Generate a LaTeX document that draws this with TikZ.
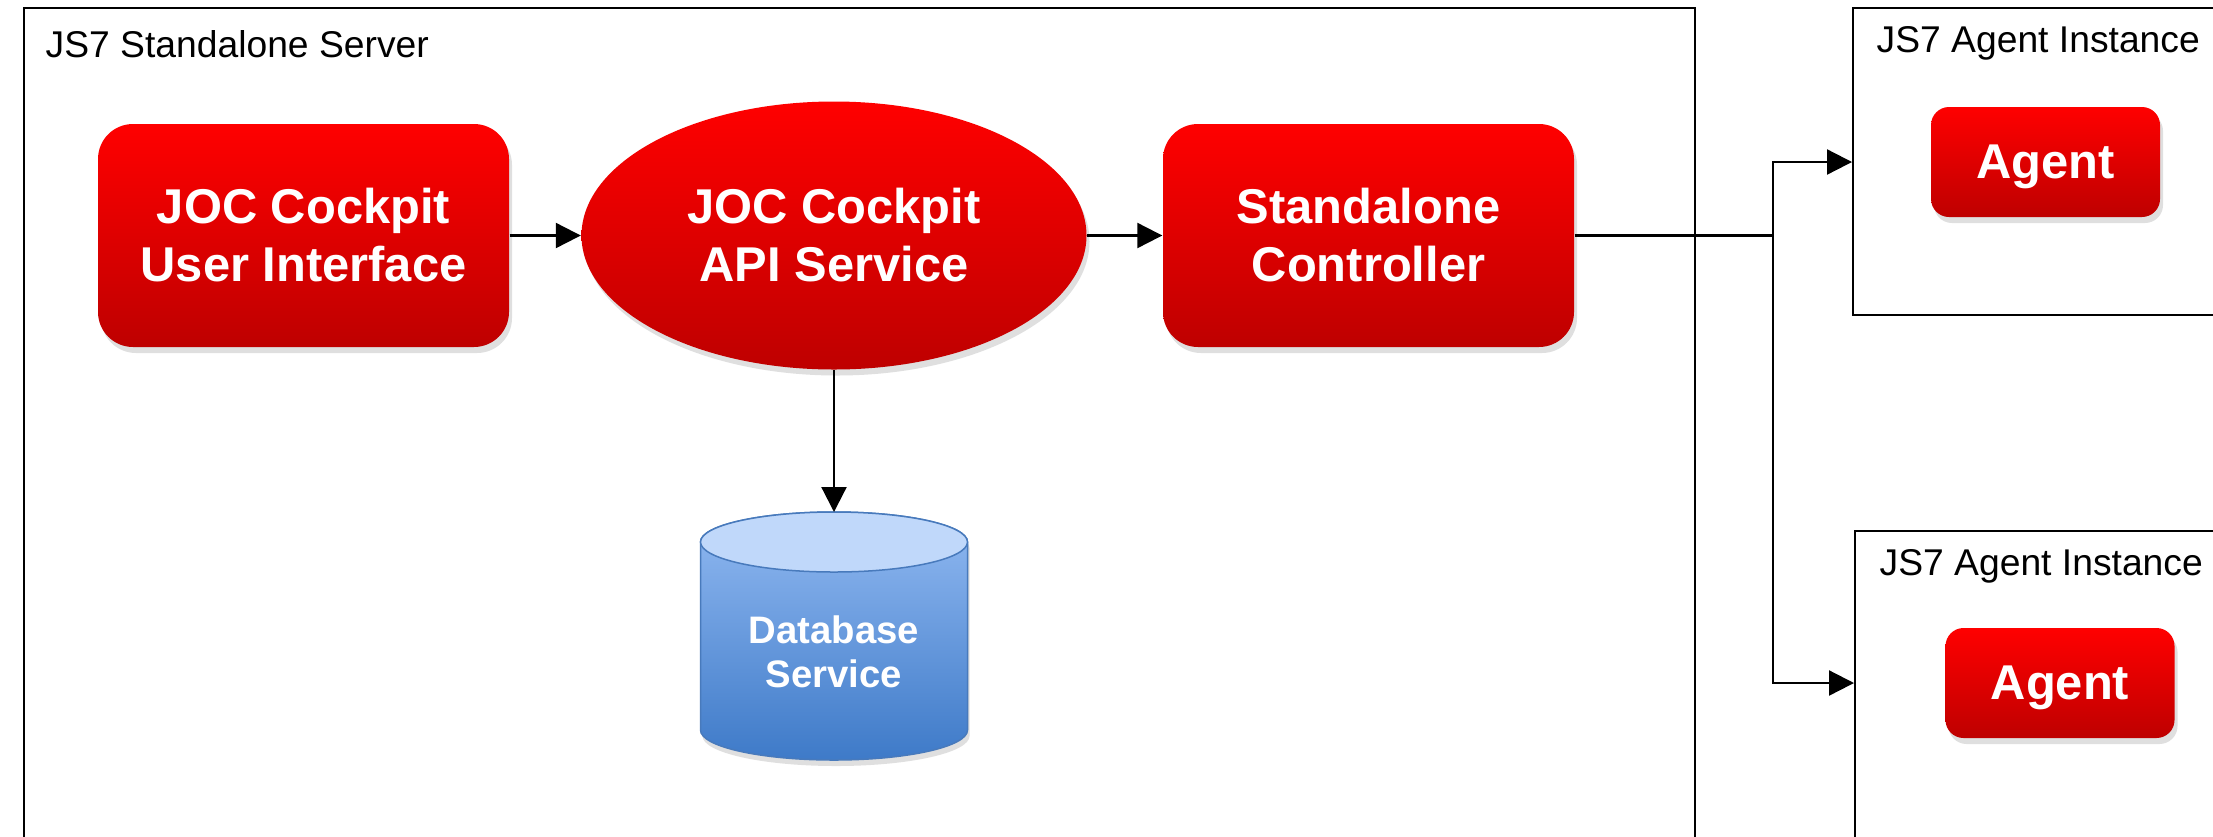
\documentclass[tikz,border=0pt]{standalone}
\usepackage{fontspec}
\setmainfont{Liberation Sans}
\usetikzlibrary{shapes.geometric,shadows,positioning,arrows.meta,calc}
\definecolor{redtop}{RGB}{255,0,0}
\definecolor{redbot}{RGB}{190,0,0}
\definecolor{dbcap}{RGB}{192,216,250}
\definecolor{dbhi}{RGB}{146,186,242}
\definecolor{dblo}{RGB}{62,122,200}
\definecolor{dbline}{RGB}{72,122,188}
\tikzset{
  frame/.style   = { draw, line width=0.22mm, anchor=north west, inner sep=0pt },
  boxtitle/.style = { anchor=base west, inner sep=0pt, font=\fontsize{10.6}{12}\selectfont },
  redbox/.style  = { rectangle, rounded corners=3.5mm, top color=redtop, bottom color=redbot,
    text=white, align=center, font=\bfseries\fontsize{13.9}{16.5}\selectfont,
    minimum width=41.1mm, minimum height=22.3mm,
    drop shadow={shadow xshift=0.3mm, shadow yshift=-0.6mm, opacity=0.25} },
  apiell/.style  = { redbox, ellipse, sharp corners, inner sep=0pt,
    minimum width=50.5mm, minimum height=26.8mm },
  agentbox/.style = { redbox, rounded corners=1.8mm, text depth=0pt,
    minimum width=22.9mm, minimum height=11mm },
  dbtext/.style  = { text=white, align=center, font=\bfseries\fontsize{10.9}{12.5}\selectfont },
  conn/.style    = { line width=0.22mm, -{Triangle[length=2.5mm,width=2.5mm]} },
  wire/.style    = { line width=0.22mm }
}
\begin{document}
\begin{tikzpicture}[x=0.1mm,y=-0.1mm,node distance=1cm,on grid]
  \useasboundingbox (0,0) rectangle (2213,836);
  \fill[white] (0,0) rectangle (2213,836);
  \clip (0,0) rectangle (2213,836);
  % containers
  \node[frame, minimum width=167.1mm, minimum height=95mm] (srv) at (23,7) {};
  \node[frame, minimum width=45mm, minimum height=30.7mm] (inst1) at (1852,7) {};
  \node[frame, minimum width=45mm, minimum height=40mm] (inst2) at (1854,530) {};
  \node[boxtitle] (tsrv) at (45,57) {JS7 Standalone Server};
  \node[boxtitle] (tinst1) at (1876,52) {JS7 Agent Instance};
  \node[boxtitle] (tinst2) at (1879,575) {JS7 Agent Instance};
  % services
  \node[redbox] (ui) at (303.5,235.5) {JOC Cockpit\\User Interface};
  \node[apiell, right=53.05mm of ui] (api) {JOC Cockpit\\API Service};
  \node[redbox, right=53.45mm of api] (ctrl) {Standalone\\Controller};
  \node[agentbox] (agent1) at (2045.5,162) {Agent};
  \node[agentbox] (agent2) at (2060,683) {Agent};
  % database
  \path (api) ++(0,413.5) coordinate (dbc);
  \shadedraw[top color=dbhi, bottom color=dblo, draw=dbline, line width=0.15mm,
    drop shadow={shadow xshift=0.2mm, shadow yshift=-0.6mm, opacity=0.25}]
    ($(dbc)+(-133.5,-107)$) -- ($(dbc)+(-133.5,81)$)
    arc[start angle=180, end angle=360, x radius=13.35mm, y radius=3mm]
    -- ($(dbc)+(133.5,-107)$)
    arc[start angle=0, end angle=180, x radius=13.35mm, y radius=3mm] -- cycle;
  \filldraw[fill=dbcap, draw=dbline, line width=0.15mm]
    ($(dbc)+(0,-107)$) ellipse [x radius=13.35mm, y radius=3mm];
  \coordinate (dbtop) at ($(dbc)+(0,-137)$);
  \node[dbtext] (db) at ($(dbc)+(0,3)$) {Database\\Service};
  % connectors
  \draw[conn] (ui) -- (api);
  \draw[conn] (api) -- (ctrl);
  \draw[conn] (api) -- (dbtop);
  \coordinate (jn) at (1773,235.5);
  \draw[wire] (ctrl) -- (jn);
  \draw[conn] (jn) |- (agent1 -| inst1.west);
  \draw[conn] (jn) |- (agent2 -| inst2.west);
\end{tikzpicture}
\end{document}
